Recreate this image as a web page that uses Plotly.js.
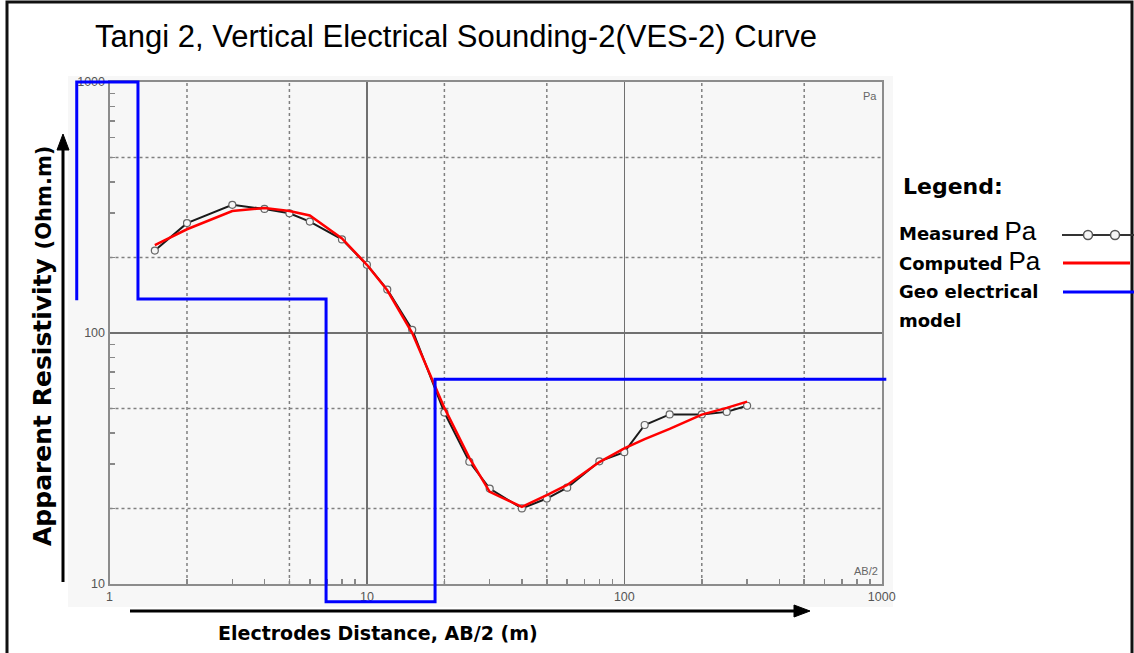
<!DOCTYPE html>
<html><head><meta charset="utf-8">
<script src="https://cdn.plot.ly/plotly-3.0.1.min.js"></script>
<style>html,body{margin:0;padding:0;background:#fff}#chart{width:1134px;height:653px}</style>
</head><body><div id="chart"></div>
<script>
// ---------- data ----------
const abMeasured  = [1.5, 2, 3, 4, 5, 6, 8, 10, 12, 15, 20, 25, 30, 40, 50, 60, 80, 100, 120, 150, 200, 250, 300];
const rhoMeasured = [213, 274, 324, 312, 300, 278, 236, 187, 149, 103, 48.2, 30.7, 24.0, 20.0, 21.9, 24.2, 30.8, 33.5, 43.0, 47.4, 47.4, 48.5, 51.3];
const abComputed  = [1.5, 2, 3, 4, 5, 6, 8, 10, 12, 15, 20, 25, 30, 40, 50, 60, 80, 100, 120, 150, 200, 250, 300];
const rhoComputed = [224, 259, 306, 315, 306, 294, 238, 187, 148, 100, 50.3, 31.8, 23.3, 20.3, 22.6, 24.8, 30.6, 34.7, 37.8, 41.5, 47.3, 50.3, 53.3];
const abModel  = [0.746, 0.746, 1.29, 1.29, 6.94, 6.94, 18.4, 18.4, 1042];
const rhoModel = [135, 1000, 1000, 136.6, 136.6, 8.49, 8.49, 65.4, 65.4];

const xTickVals = [1, 10, 100, 1000];
const xTickText = ['1', '10', '100', '1000'];
const yTickVals = [10, 100, 1000];
const yTickText = ['10', '100', '1000'];
const xGridDotted = [2, 5, 20, 50, 200, 500];
const yGridDotted = [20, 50, 200, 500];
const minorVals = [2,3,4,5,6,7,8,9,20,30,40,50,60,70,80,90,200,300,400,500,600,700,800,900];

const titleText = 'Tangi 2, Vertical Electrical Sounding-2(VES-2) Curve';
const xTitle = 'Electrodes Distance, AB/2 (m)';
const yTitleMain = 'Apparent Resistivity ';
const yTitleUnit = '(Ohm.m)';
const legendHeader = 'Legend:';
const legendNames = ['Measured', 'Computed', 'Geo electrical'];

// ---------- geometry ----------
const W = 1134, H = 653;
const M = {l: 60, r: 234, t: 70, b: 30};
const PW = W - M.l - M.r, PH = H - M.t - M.b;
const px2x = p => (p - M.l) / PW;
const py2y = p => (H - M.b - p) / PH;
const box = {x0: 109.5, x1: 881.7, y0: 82, y1: 584};
const xr = [0, 3], yr = [1, 3];
const xdom = [px2x(box.x0), px2x(box.x1)];
const ydom = [py2y(box.y1), py2y(box.y0)];
const kx = (xr[1] - xr[0]) / (box.x1 - box.x0);
const xr2 = [xr[0] - (box.x0 - M.l) * kx, xr[1] + (W - M.r - box.x1) * kx];
const ky = (yr[1] - yr[0]) / (box.y1 - box.y0);
const yr2 = [yr[0] - (H - M.b - box.y1) * ky, yr[1] + (box.y0 - M.t) * ky];

// ---------- traces ----------
const traces = [
  {x: abModel, y: rhoModel, xaxis: 'x2', yaxis: 'y2', mode: 'lines', name: 'Geo electrical model',
   line: {color: '#0000ff', width: 3}, hoverinfo: 'skip'},
  {x: abMeasured, y: rhoMeasured, mode: 'lines+markers', name: 'Measured Pa',
   line: {color: '#1a1a1a', width: 2},
   marker: {symbol: 'circle', size: 7, color: '#f6f6f6', line: {color: '#666', width: 1.2}}},
  {x: abComputed, y: rhoComputed, mode: 'lines', name: 'Computed Pa',
   line: {color: '#ff0000', width: 2.5}}
];

// ---------- shapes ----------
const shapes = [];
shapes.push({type: 'rect', xref: 'paper', yref: 'paper', layer: 'below',
  x0: px2x(68), x1: px2x(893), y0: py2y(607), y1: py2y(76),
  fillcolor: '#f7f7f7', line: {width: 0}});
shapes.push({type: 'rect', xref: 'paper', yref: 'paper', layer: 'below',
  x0: px2x(7), x1: px2x(1132), y0: py2y(665), y1: py2y(2),
  fillcolor: 'rgba(0,0,0,0)', line: {color: '#111', width: 3}});
xGridDotted.forEach(v => shapes.push({type: 'line', xref: 'x', yref: 'y domain', layer: 'below',
  x0: v, x1: v, y0: 0, y1: 1, line: {color: '#808080', width: 1.5, dash: 'dot'}}));
yGridDotted.forEach(v => shapes.push({type: 'line', xref: 'x domain', yref: 'y', layer: 'below',
  x0: 0, x1: 1, y0: v, y1: v, line: {color: '#808080', width: 1.5, dash: 'dot'}}));
// axis arrows
shapes.push({type: 'line', xref: 'paper', yref: 'paper', x0: px2x(63), x1: px2x(63), y0: py2y(582), y1: py2y(148),
  line: {color: '#000', width: 3}});
shapes.push({type: 'path', xref: 'paper', yref: 'paper', fillcolor: '#000', line: {color: '#000', width: 1},
  path: `M ${px2x(57)} ${py2y(150)} L ${px2x(69)} ${py2y(150)} L ${px2x(63)} ${py2y(134)} Z`});
shapes.push({type: 'line', xref: 'paper', yref: 'paper', x0: px2x(130), x1: px2x(796), y0: py2y(611), y1: py2y(611),
  line: {color: '#000', width: 3}});
shapes.push({type: 'path', xref: 'paper', yref: 'paper', fillcolor: '#000', line: {color: '#000', width: 1},
  path: `M ${px2x(794)} ${py2y(605)} L ${px2x(794)} ${py2y(617)} L ${px2x(810)} ${py2y(611)} Z`});
// legend samples
shapes.push({type: 'line', xref: 'paper', yref: 'paper', x0: px2x(1062), x1: px2x(1134), y0: py2y(235), y1: py2y(235),
  line: {color: '#333', width: 2}});
[1088, 1115].forEach(cx => shapes.push({type: 'circle', xref: 'paper', yref: 'paper',
  x0: px2x(cx - 4.5), x1: px2x(cx + 4.5), y0: py2y(235 + 4.5), y1: py2y(235 - 4.5),
  fillcolor: '#f6f6f6', line: {color: '#555', width: 1.5}}));
shapes.push({type: 'line', xref: 'paper', yref: 'paper', x0: px2x(1063), x1: px2x(1130), y0: py2y(263), y1: py2y(263),
  line: {color: '#ff0000', width: 3}});
shapes.push({type: 'line', xref: 'paper', yref: 'paper', x0: px2x(1063), x1: px2x(1134), y0: py2y(292), y1: py2y(292),
  line: {color: '#0000ff', width: 3}});

// ---------- annotations ----------
const legFont = {family: 'DejaVu Sans', size: 18, color: '#000'};
const ann = (text, px, py, extra) => Object.assign({text: text, xref: 'paper', yref: 'paper',
  x: px2x(px), y: py2y(py), showarrow: false, xanchor: 'left', yanchor: 'middle'}, extra || {});
const annotations = [
  ann('Pa', 879, 96, {xanchor: 'right', font: {family: 'Arial', size: 11, color: '#666'}}),
  ann('AB/2', 880, 571, {xanchor: 'right', font: {family: 'Arial', size: 11, color: '#666'}}),
  ann('<b>' + xTitle + '</b>', 378, 633, {xanchor: 'center', font: {family: 'DejaVu Sans', size: 19, color: '#000'}}),
  ann('<b>' + yTitleMain + '<span style="font-size:21px">' + yTitleUnit + '</span></b>', 42, 346,
      {xanchor: 'center', textangle: -90, font: {family: 'DejaVu Sans', size: 25, color: '#000'}}),
  ann('<b>' + legendHeader + '</b>', 901, 187, {font: {family: 'DejaVu Sans', size: 22, color: '#000'}}),
  ann('<b>' + legendNames[0] + '</b> <span style="font-family:Arial;font-size:26px">Pa</span>', 897, 231, {font: legFont}),
  ann('<b>' + legendNames[1] + '</b> <span style="font-family:Arial;font-size:26px">Pa</span>', 897, 261, {font: legFont}),
  ann('<b>' + legendNames[2] + '</b>', 897, 291, {font: legFont}),
  ann('<b>model</b>', 897, 320, {font: legFont})
];

// ---------- axes ----------
const tickFont = {family: 'Arial', size: 12.5, color: '#555'};
const layout = {
  width: W, height: H, margin: M, showlegend: false,
  paper_bgcolor: '#ffffff', plot_bgcolor: 'rgba(0,0,0,0)',
  title: {text: titleText, xref: 'container', yref: 'container', x: 95 / W, xanchor: 'left',
          y: 1 - 36 / H, yanchor: 'middle', font: {family: 'Arial', size: 31, color: '#000'}},
  xaxis: {type: 'log', range: xr, domain: xdom, anchor: 'y', tickmode: 'array', tickvals: xTickVals, ticktext: xTickText,
          ticks: '', showgrid: true, gridcolor: '#707070', gridwidth: 1.5, showline: true, mirror: true,
          linecolor: '#8c8c8c', linewidth: 2, zeroline: false, tickfont: tickFont, fixedrange: true,
          minor: {tickmode: 'array', tickvals: minorVals, ticks: 'inside', ticklen: 5, tickwidth: 1.5, tickcolor: '#888', showgrid: false}},
  yaxis: {type: 'log', range: yr, domain: ydom, anchor: 'x', tickmode: 'array', tickvals: yTickVals, ticktext: yTickText,
          ticks: '', showgrid: true, gridcolor: '#707070', gridwidth: 1.5, showline: true, mirror: true,
          linecolor: '#8c8c8c', linewidth: 2, zeroline: false, tickfont: tickFont, fixedrange: true,
          minor: {tickmode: 'array', tickvals: minorVals, ticks: 'inside', ticklen: 5, tickwidth: 1.5, tickcolor: '#888', showgrid: false}},
  xaxis2: {type: 'log', range: xr2, domain: [0, 1], anchor: 'y2', visible: false, fixedrange: true},
  yaxis2: {type: 'log', range: yr2, domain: [0, 1], anchor: 'x2', visible: false, fixedrange: true},
  shapes: shapes,
  annotations: annotations
};

Plotly.newPlot('chart', traces, layout, {staticPlot: true, displayModeBar: false});
</script>
</body></html>
